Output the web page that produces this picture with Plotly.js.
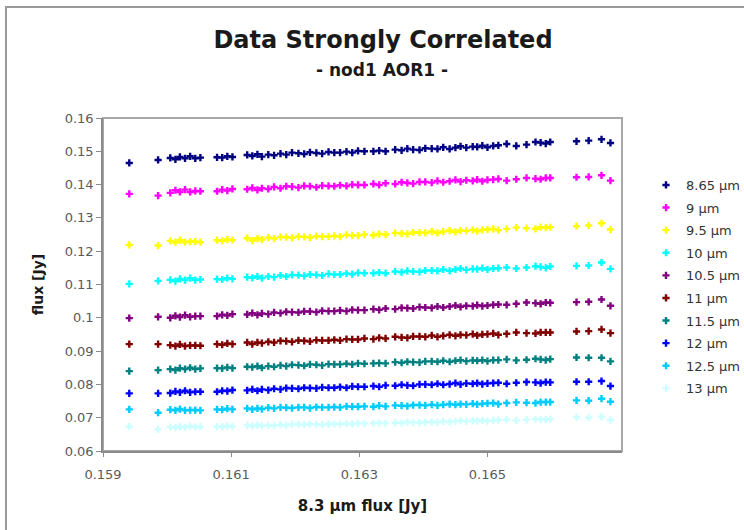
<!DOCTYPE html>
<html>
<head>
<meta charset="utf-8">
<script src="https://cdn.plot.ly/plotly-3.0.1.min.js"></script>
<style>
  html, body { margin: 0; padding: 0; background: #ffffff; overflow: hidden; }
  #frame { width: 744px; height: 530px; overflow: hidden; position: relative; }
  #chart { width: 760px; height: 530px; }
</style>
</head>
<body>
<div id="frame"><div id="chart"></div></div>
<script>
// 8.3 µm reference flux [Jy] (shared x for every band)
const flux83 = [
  0.15941, 0.15986, 0.16005, 0.16013, 0.16020, 0.16028, 0.16036, 0.16044, 0.16052, 0.16078,
  0.16086, 0.16094, 0.16102, 0.16125, 0.16133, 0.16141, 0.16148, 0.16158, 0.16167, 0.16177,
  0.16186, 0.16195, 0.16205, 0.16214, 0.16223, 0.16233, 0.16242, 0.16252, 0.16261, 0.16270,
  0.16280, 0.16289, 0.16298, 0.16308, 0.16322, 0.16331, 0.16341, 0.16356, 0.16366, 0.16375,
  0.16384, 0.16394, 0.16403, 0.16413, 0.16422, 0.16431, 0.16441, 0.16450, 0.16458, 0.16467,
  0.16477, 0.16484, 0.16492, 0.16500, 0.16509, 0.16517, 0.16530, 0.16545, 0.16561, 0.16575,
  0.16583, 0.16591, 0.16598, 0.16639, 0.16658, 0.16678, 0.16692
];

// Flux [Jy] in each band
const flux865 = [
  0.1465, 0.1474, 0.1480, 0.1476, 0.1483, 0.1479, 0.1485, 0.1479, 0.1481, 0.1482,
  0.1481, 0.1485, 0.1483, 0.1489, 0.1486, 0.1491, 0.1484, 0.1490, 0.1488, 0.1493,
  0.1490, 0.1496, 0.1494, 0.1492, 0.1497, 0.1495, 0.1493, 0.1498, 0.1496, 0.1496,
  0.1499, 0.1496, 0.1501, 0.1500, 0.1500, 0.1502, 0.1500, 0.1505, 0.1503, 0.1508,
  0.1505, 0.1504, 0.1509, 0.1508, 0.1507, 0.1512, 0.1507, 0.1511, 0.1515, 0.1511,
  0.1514, 0.1513, 0.1517, 0.1512, 0.1516, 0.1518, 0.1522, 0.1516, 0.1520, 0.1528,
  0.1526, 0.1523, 0.1528, 0.1530, 0.1532, 0.1536, 0.1525
];
const flux90 = [
  0.1372, 0.1367, 0.1375, 0.1383, 0.1378, 0.1385, 0.1378, 0.1381, 0.1380, 0.1380,
  0.1385, 0.1382, 0.1387, 0.1386, 0.1390, 0.1384, 0.1389, 0.1387, 0.1393, 0.1389,
  0.1395, 0.1394, 0.1391, 0.1396, 0.1395, 0.1392, 0.1397, 0.1396, 0.1395, 0.1398,
  0.1396, 0.1400, 0.1399, 0.1399, 0.1402, 0.1399, 0.1404, 0.1402, 0.1407, 0.1405,
  0.1403, 0.1408, 0.1408, 0.1406, 0.1411, 0.1407, 0.1410, 0.1414, 0.1409, 0.1413,
  0.1411, 0.1415, 0.1410, 0.1414, 0.1415, 0.1417, 0.1412, 0.1416, 0.1420, 0.1418,
  0.1416, 0.1420, 0.1420, 0.1422, 0.1423, 0.1428, 0.1412
];
const flux95 = [
  0.1219, 0.1217, 0.1231, 0.1227, 0.1233, 0.1227, 0.1229, 0.1229, 0.1227, 0.1233,
  0.1231, 0.1235, 0.1233, 0.1239, 0.1232, 0.1238, 0.1235, 0.1241, 0.1238, 0.1243,
  0.1242, 0.1240, 0.1244, 0.1243, 0.1241, 0.1245, 0.1244, 0.1244, 0.1246, 0.1244,
  0.1249, 0.1247, 0.1247, 0.1250, 0.1248, 0.1252, 0.1250, 0.1255, 0.1253, 0.1252,
  0.1256, 0.1256, 0.1255, 0.1259, 0.1255, 0.1259, 0.1262, 0.1258, 0.1262, 0.1261,
  0.1264, 0.1260, 0.1264, 0.1265, 0.1267, 0.1263, 0.1267, 0.1271, 0.1269, 0.1267,
  0.1272, 0.1271, 0.1272, 0.1275, 0.1277, 0.1284, 0.1265
];
const flux100 = [
  0.1102, 0.1111, 0.1114, 0.1110, 0.1117, 0.1113, 0.1119, 0.1113, 0.1115, 0.1116,
  0.1115, 0.1119, 0.1117, 0.1122, 0.1120, 0.1124, 0.1119, 0.1124, 0.1122, 0.1127,
  0.1124, 0.1129, 0.1128, 0.1126, 0.1130, 0.1129, 0.1127, 0.1132, 0.1130, 0.1130,
  0.1133, 0.1131, 0.1135, 0.1134, 0.1134, 0.1136, 0.1134, 0.1139, 0.1137, 0.1141,
  0.1139, 0.1138, 0.1142, 0.1142, 0.1141, 0.1145, 0.1141, 0.1145, 0.1148, 0.1144,
  0.1147, 0.1146, 0.1149, 0.1145, 0.1148, 0.1149, 0.1151, 0.1148, 0.1151, 0.1155,
  0.1153, 0.1150, 0.1154, 0.1156, 0.1157, 0.1166, 0.1147
];
const flux105 = [
  0.0999, 0.1003, 0.1000, 0.1006, 0.1002, 0.1008, 0.1003, 0.1005, 0.1005, 0.1005,
  0.1009, 0.1007, 0.1011, 0.1010, 0.1014, 0.1009, 0.1013, 0.1011, 0.1016, 0.1014,
  0.1018, 0.1017, 0.1016, 0.1019, 0.1019, 0.1017, 0.1021, 0.1020, 0.1020, 0.1022,
  0.1020, 0.1024, 0.1023, 0.1023, 0.1026, 0.1024, 0.1028, 0.1026, 0.1030, 0.1029,
  0.1028, 0.1032, 0.1031, 0.1030, 0.1034, 0.1031, 0.1034, 0.1037, 0.1033, 0.1036,
  0.1035, 0.1038, 0.1035, 0.1037, 0.1039, 0.1040, 0.1039, 0.1042, 0.1046, 0.1044,
  0.1042, 0.1046, 0.1045, 0.1047, 0.1048, 0.1055, 0.1036
];
const flux110 = [
  0.0921, 0.0921, 0.0918, 0.0915, 0.0920, 0.0915, 0.0917, 0.0917, 0.0916, 0.0921,
  0.0919, 0.0923, 0.0921, 0.0926, 0.0921, 0.0926, 0.0924, 0.0928, 0.0926, 0.0931,
  0.0930, 0.0928, 0.0932, 0.0931, 0.0929, 0.0933, 0.0932, 0.0932, 0.0934, 0.0932,
  0.0936, 0.0935, 0.0935, 0.0938, 0.0936, 0.0940, 0.0938, 0.0943, 0.0941, 0.0940,
  0.0944, 0.0944, 0.0943, 0.0947, 0.0943, 0.0946, 0.0949, 0.0946, 0.0949, 0.0948,
  0.0951, 0.0947, 0.0950, 0.0951, 0.0953, 0.0949, 0.0952, 0.0956, 0.0954, 0.0953,
  0.0956, 0.0956, 0.0956, 0.0959, 0.0960, 0.0965, 0.0954
];
const flux115 = [
  0.0840, 0.0843, 0.0846, 0.0843, 0.0849, 0.0846, 0.0850, 0.0846, 0.0848, 0.0849,
  0.0848, 0.0851, 0.0849, 0.0853, 0.0852, 0.0855, 0.0850, 0.0855, 0.0853, 0.0857,
  0.0855, 0.0859, 0.0858, 0.0856, 0.0860, 0.0859, 0.0857, 0.0861, 0.0860, 0.0860,
  0.0862, 0.0860, 0.0863, 0.0862, 0.0863, 0.0864, 0.0863, 0.0867, 0.0865, 0.0868,
  0.0867, 0.0866, 0.0869, 0.0869, 0.0868, 0.0871, 0.0868, 0.0871, 0.0873, 0.0870,
  0.0872, 0.0871, 0.0873, 0.0870, 0.0873, 0.0873, 0.0875, 0.0872, 0.0874, 0.0877,
  0.0875, 0.0873, 0.0876, 0.0881, 0.0880, 0.0880, 0.0869
];
const flux120 = [
  0.0773, 0.0773, 0.0774, 0.0779, 0.0776, 0.0781, 0.0776, 0.0778, 0.0778, 0.0778,
  0.0781, 0.0780, 0.0783, 0.0782, 0.0785, 0.0781, 0.0785, 0.0783, 0.0787, 0.0785,
  0.0789, 0.0788, 0.0787, 0.0790, 0.0789, 0.0788, 0.0791, 0.0790, 0.0790, 0.0792,
  0.0790, 0.0794, 0.0793, 0.0793, 0.0795, 0.0793, 0.0797, 0.0796, 0.0799, 0.0797,
  0.0796, 0.0800, 0.0800, 0.0799, 0.0802, 0.0799, 0.0801, 0.0804, 0.0800, 0.0803,
  0.0802, 0.0804, 0.0801, 0.0803, 0.0804, 0.0805, 0.0802, 0.0805, 0.0807, 0.0806,
  0.0804, 0.0807, 0.0806, 0.0808, 0.0808, 0.0810, 0.0795
];
const flux125 = [
  0.0725, 0.0715, 0.0724, 0.0722, 0.0726, 0.0722, 0.0723, 0.0723, 0.0722, 0.0725,
  0.0724, 0.0727, 0.0725, 0.0728, 0.0725, 0.0728, 0.0726, 0.0730, 0.0728, 0.0731,
  0.0730, 0.0729, 0.0731, 0.0731, 0.0729, 0.0732, 0.0731, 0.0731, 0.0732, 0.0731,
  0.0734, 0.0733, 0.0733, 0.0734, 0.0733, 0.0736, 0.0734, 0.0737, 0.0736, 0.0735,
  0.0738, 0.0738, 0.0737, 0.0739, 0.0737, 0.0739, 0.0741, 0.0739, 0.0741, 0.0740,
  0.0742, 0.0740, 0.0742, 0.0743, 0.0744, 0.0741, 0.0744, 0.0746, 0.0745, 0.0744,
  0.0747, 0.0747, 0.0747, 0.0752, 0.0751, 0.0757, 0.0748
];
const flux130 = [
  0.0673, 0.0665, 0.0672, 0.0670, 0.0674, 0.0671, 0.0675, 0.0672, 0.0673, 0.0673,
  0.0673, 0.0675, 0.0674, 0.0677, 0.0675, 0.0678, 0.0675, 0.0677, 0.0676, 0.0679,
  0.0677, 0.0680, 0.0680, 0.0679, 0.0681, 0.0680, 0.0679, 0.0681, 0.0681, 0.0681,
  0.0682, 0.0681, 0.0683, 0.0683, 0.0683, 0.0684, 0.0683, 0.0685, 0.0684, 0.0687,
  0.0686, 0.0685, 0.0687, 0.0687, 0.0686, 0.0689, 0.0687, 0.0689, 0.0691, 0.0689,
  0.0691, 0.0690, 0.0692, 0.0690, 0.0692, 0.0693, 0.0694, 0.0692, 0.0694, 0.0696,
  0.0695, 0.0694, 0.0696, 0.0701, 0.0700, 0.0703, 0.0693
];

const bandNames = ["8.65 µm", "9 µm", "9.5 µm", "10 µm", "10.5 µm",
                   "11 µm", "11.5 µm", "12 µm", "12.5 µm", "13 µm"];
const bandFlux = [flux865, flux90, flux95, flux100, flux105,
                  flux110, flux115, flux120, flux125, flux130];
const bandColors = ["#000080", "#FF00FF", "#FFFF00", "#00FFFF", "#800080",
                    "#800000", "#008080", "#0000FF", "#00CCFF", "#CCFFFF"];

const xTickVals = [0.159, 0.161, 0.163, 0.165];
const xTickText = ["0.159", "0.161", "0.163", "0.165"];
const yTickVals = [0.06, 0.07, 0.08, 0.09, 0.10, 0.11, 0.12, 0.13, 0.14, 0.15, 0.16];
const yTickText = ["0.06", "0.07", "0.08", "0.09", "0.1", "0.11", "0.12", "0.13", "0.14", "0.15", "0.16"];

const FONT = "DejaVu Sans, Verdana, sans-serif";

const traces = bandNames.map((name, i) => ({
  type: "scatter",
  mode: "markers",
  name: name,
  legendgroup: "g" + i,
  x: flux83,
  y: bandFlux[i],
  marker: { symbol: "cross", size: 6, color: bandColors[i], line: { width: 0 } },
  hoverinfo: "x+y+name"
}));

// Figure is slightly wider than the visible frame so the legend can sit near the right edge
const W = 760, H = 530;
const M = { l: 103, r: 138, t: 118, b: 79, autoexpand: false };
const pw = W - M.l - M.r, ph = H - M.t - M.b;
const px2paperX = p => (p - M.l) / pw;
const px2paperY = p => (H - M.b - p) / ph;

const layout = {
  width: W,
  height: H,
  margin: M,
  paper_bgcolor: "#ffffff",
  plot_bgcolor: "#ffffff",
  font: { family: FONT, color: "#222" },
  showlegend: true,
  title: {
    text: "<b>Data Strongly Correlated</b>",
    font: { family: FONT, size: 24, color: "#1a1a1a" },
    x: px2paperX(383), xref: "paper", xanchor: "center",
    y: 1 - 40 / H, yref: "container", yanchor: "middle"
  },
  annotations: [{
    text: "<b>- nod1 AOR1 -</b>",
    xref: "paper", yref: "paper",
    x: px2paperX(382), y: px2paperY(70),
    xanchor: "center", yanchor: "middle",
    showarrow: false,
    font: { family: FONT, size: 17, color: "#1a1a1a" }
  }],
  xaxis: {
    range: [0.159, 0.1671],
    tickvals: xTickVals,
    ticktext: xTickText,
    showgrid: false,
    zeroline: false,
    showline: true,
    linecolor: "#8a8a8a",
    linewidth: 1.5,
    ticks: "outside",
    ticklen: 4,
    tickcolor: "#8a8a8a",
    ticklabelstandoff: 7,
    tickfont: { family: FONT, size: 13, color: "#5a5a5a" },
    title: {
      text: "<b>8.3 µm flux [Jy]</b>",
      font: { family: FONT, size: 15, color: "#1a1a1a" },
      standoff: 19
    },
    automargin: false
  },
  yaxis: {
    range: [0.06, 0.16],
    tickvals: yTickVals,
    ticktext: yTickText,
    showgrid: false,
    zeroline: false,
    showline: true,
    linecolor: "#8a8a8a",
    linewidth: 1.5,
    ticks: "outside",
    ticklen: 5,
    tickcolor: "#8a8a8a",
    tickfont: { family: FONT, size: 13, color: "#5a5a5a" },
    title: {
      text: "<b>flux [Jy]</b>",
      font: { family: FONT, size: 14, color: "#1a1a1a" },
      standoff: 18
    },
    automargin: false
  },
  legend: {
    x: px2paperX(646), y: px2paperY(170),
    xanchor: "left", yanchor: "top",
    xref: "paper", yref: "paper",
    bgcolor: "rgba(0,0,0,0)",
    borderwidth: 0,
    traceorder: "grouped",
    tracegroupgap: 2.7,
    font: { family: FONT, size: 13, color: "#333333" }
  },
  shapes: [
    // plot-area frame
    {
      type: "rect", xref: "paper", yref: "paper",
      x0: 0, x1: 1, y0: 0, y1: 1,
      line: { color: "#a8a8a8", width: 2 },
      layer: "below"
    },
    // outer chart frame
    {
      type: "rect", xref: "paper", yref: "paper",
      x0: px2paperX(6), x1: px2paperX(790),
      y0: px2paperY(560), y1: px2paperY(7),
      line: { color: "#9a9a9a", width: 2 },
      layer: "below"
    }
  ]
};

Plotly.newPlot("chart", traces, layout, { displayModeBar: false, responsive: false });
</script>
</body>
</html>
